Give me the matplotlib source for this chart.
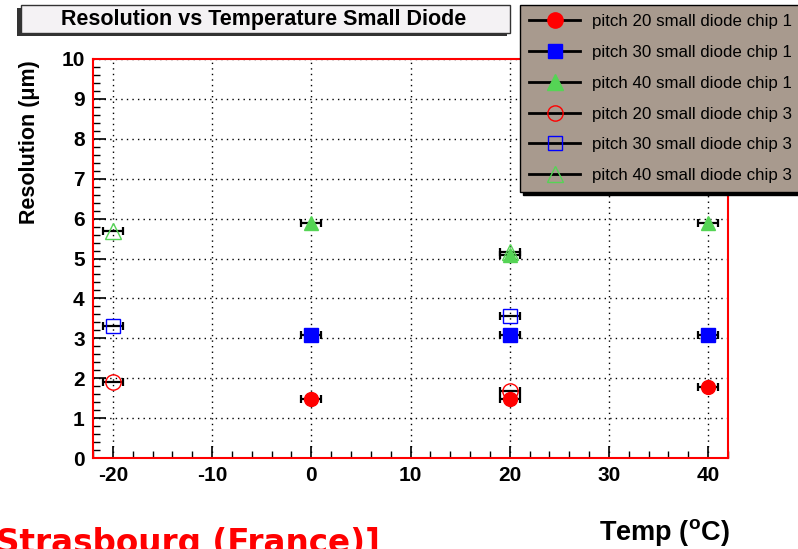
import matplotlib
matplotlib.use("Agg")
import matplotlib.pyplot as plt
from matplotlib.lines import Line2D
from matplotlib.patches import Rectangle
from matplotlib.ticker import MultipleLocator

plt.rcParams["axes.unicode_minus"] = False

# Data
temp_chip1 = [0, 20, 40]
p20_chip1 = [1.48, 1.48, 1.78]
p30_chip1 = [3.08, 3.08, 3.08]
p40_chip1 = [5.89, 5.09, 5.89]

temp_chip3 = [-20, 20]
p20_chip3 = [1.90, 1.68]
p30_chip3 = [3.30, 3.56]
p40_chip3 = [5.69, 5.16]

temp_err = 1.0

labels = ["pitch 20 small diode chip 1",
          "pitch 30 small diode chip 1",
          "pitch 40 small diode chip 1",
          "pitch 20 small diode chip 3",
          "pitch 30 small diode chip 3",
          "pitch 40 small diode chip 3"]

RED = "#ff0000"
BLUE = "#0000ff"
GREEN = "#55d455"
FONT = ["Liberation Sans", "DejaVu Sans"]


def plot_series(ax, x, y, color, marker, filled, size):
    ax.errorbar(x, y, xerr=temp_err, fmt="none", ecolor="black",
                elinewidth=1.6, capsize=3, capthick=1.6, zorder=3)
    ax.plot(x, y, linestyle="none", marker=marker, markersize=size,
            markerfacecolor=color if filled else "none",
            markeredgecolor=color, markeredgewidth=1.0, zorder=4)


fig = plt.figure(figsize=(7.98, 5.49), dpi=100)
W, H = 798.0, 549.0
ax = fig.add_axes([93 / W, 1 - 458 / H, 635 / W, 399 / H])

plot_series(ax, temp_chip1, p20_chip1, RED, "o", True, 10)
plot_series(ax, temp_chip1, p30_chip1, BLUE, "s", True, 10)
plot_series(ax, temp_chip1, p40_chip1, GREEN, "^", True, 10)
plot_series(ax, temp_chip3, p20_chip3, RED, "o", False, 11)
plot_series(ax, temp_chip3, p30_chip3, BLUE, "s", False, 10)
plot_series(ax, temp_chip3, p40_chip3, GREEN, "^", False, 11)

ax.set_xlim(-22, 42)
ax.set_ylim(0, 10)
ax.xaxis.set_major_locator(MultipleLocator(10))
ax.xaxis.set_minor_locator(MultipleLocator(2))
ax.yaxis.set_major_locator(MultipleLocator(1))
ax.yaxis.set_minor_locator(MultipleLocator(0.2))
ax.grid(True, which="major", color="black", linestyle=(0, (1, 3)), linewidth=1.0)
ax.tick_params(which="both", direction="in", top=False, right=False, color="black")
ax.tick_params(which="major", length=9, width=1.2, labelsize=15, pad=6)
ax.tick_params(which="minor", length=5, width=1.0)
for lab in ax.get_xticklabels() + ax.get_yticklabels():
    lab.set_family(FONT)
    lab.set_fontweight("bold")
for sp in ax.spines.values():
    sp.set_color(RED)
    sp.set_linewidth(1.5)

# y label and x label
fig.text(30 / W, 1 - 142 / H, "Resolution (\u03bcm)", rotation=90, ha="center",
         va="center", fontsize=15.5, fontweight="bold", family=FONT)
fig.text(730 / W, 1 - 540 / H, "Temp ($^{\\mathregular{o}}$C)", ha="right",
         va="baseline", fontsize=19.5, fontweight="bold", family=FONT)

# title box with shadow
fig.patches.append(Rectangle((17 / W, 1 - 36 / H), 490 / W, 28 / H,
                             transform=fig.transFigure, facecolor="#333333",
                             edgecolor="none", zorder=5))
fig.patches.append(Rectangle((21 / W, 1 - 33 / H), 489 / W, 28 / H,
                             transform=fig.transFigure, facecolor="#f4f2f4",
                             edgecolor="#333333", linewidth=1.0, zorder=6))
fig.text(264 / W, 1 - 19 / H, "Resolution vs Temperature Small Diode",
         ha="center", va="center", fontsize=15.5, fontweight="bold",
         family=FONT, zorder=7)

# legend
handles = [
    Line2D([], [], color="black", lw=2, marker="o", markersize=11,
           markerfacecolor=RED, markeredgecolor=RED),
    Line2D([], [], color="black", lw=2, marker="s", markersize=10,
           markerfacecolor=BLUE, markeredgecolor=BLUE),
    Line2D([], [], color="black", lw=2, marker="^", markersize=11,
           markerfacecolor=GREEN, markeredgecolor=GREEN),
    Line2D([], [], color="black", lw=2, marker="o", markersize=11,
           markerfacecolor="none", markeredgecolor=RED),
    Line2D([], [], color="black", lw=2, marker="s", markersize=10,
           markerfacecolor="none", markeredgecolor=BLUE),
    Line2D([], [], color="black", lw=2, marker="^", markersize=11,
           markerfacecolor="none", markeredgecolor=GREEN),
]
leg = fig.legend(handles, labels, loc="upper left",
                 bbox_to_anchor=(520 / W, 1 - 5 / H, 300 / W, 0.0),
                 mode="expand", borderaxespad=0, fancybox=False,
                 shadow={"color": "black", "alpha": 1.0},
                 facecolor="#a89a8e", edgecolor="black", framealpha=1.0,
                 prop={"family": FONT, "size": 12.2}, handlelength=3.0,
                 handletextpad=0.7, labelspacing=0.93, borderpad=0.55)
leg.get_frame().set_linewidth(1.0)
leg.set_zorder(10)

# footer text, cut off at the bottom edge as in the reference
fig.text(-4 / W, 1 - 553 / H, "Strasbourg (France)]", ha="left", va="baseline",
         fontsize=23.5, fontweight="bold", color=RED, family=["DejaVu Sans"])

fig.savefig("out.png", dpi=100)
